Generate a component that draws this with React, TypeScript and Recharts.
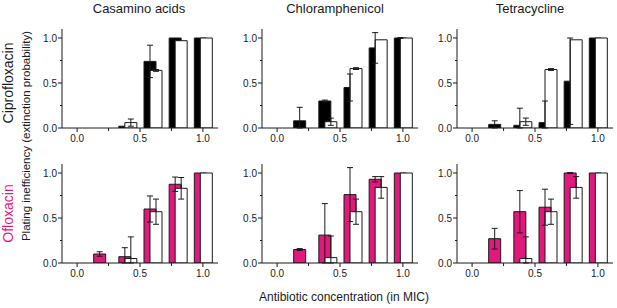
import React from "react";
import { BarChart, Bar, XAxis, YAxis, ErrorBar } from "recharts";

const FONT = "'Liberation Sans', Arial, sans-serif";
const MAGENTA = "#e2197c";
const INK = "#1a1a1a";

// x positions of the bar pairs (fraction of MIC)
const concentrations = [0.2, 0.4, 0.6, 0.8, 1.0];
const xTicks = [0, 0.25, 0.5, 0.75, 1];
const yTicks = [0, 0.25, 0.5, 0.75, 1];
const minorTicks = [0.25, 0.75];

// Ciprofloxacin row (filled = black bars, open = white bars)
const casCiproFilled = [0, 0.02, 0.74, 1.0, 1.0];
const casCiproFilledErr = [0, 0, 0.18, 0, 0];
const casCiproOpen = [0, 0.06, 0.64, 0.97, 1.0];
const casCiproOpenErr = [0, 0.04, 0.01, 0, 0];

const chlCiproFilled = [0.08, 0.3, 0.45, 0.89, 1.0];
const chlCiproFilledErr = [0.15, 0.01, 0.15, 0.17, 0.005];
const chlCiproOpen = [0, 0.07, 0.66, 0.98, 1.0];
const chlCiproOpenErr = [0, 0.04, 0.01, 0, 0];

const tetCiproFilled = [0.04, 0.03, 0.06, 0.52, 1.0];
const tetCiproFilledErr = [0.04, 0.19, 0.24, 0.48, 0];
const tetCiproOpen = [0, 0.07, 0.65, 0.98, 1.0];
const tetCiproOpenErr = [0, 0.04, 0.01, 0, 0];

// Ofloxacin row (filled = magenta bars)
const casOfloFilled = [0.1, 0.07, 0.6, 0.875, 1.0];
const casOfloFilledErr = [0.025, 0.1, 0.145, 0.08, 0];
const casOfloOpen = [0, 0.05, 0.57, 0.83, 1.0];
const casOfloOpenErr = [0, 0.24, 0.14, 0.12, 0];

const chlOfloFilled = [0.15, 0.31, 0.76, 0.93, 1.0];
const chlOfloFilledErr = [0.01, 0.35, 0.3, 0.03, 0];
const chlOfloOpen = [0, 0.06, 0.57, 0.84, 1.0];
const chlOfloOpenErr = [0, 0.24, 0.14, 0.12, 0];

const tetOfloFilled = [0.27, 0.57, 0.62, 1.0, 1.0];
const tetOfloFilledErr = [0.115, 0.235, 0.2, 0.005, 0];
const tetOfloOpen = [0, 0.05, 0.57, 0.84, 1.0];
const tetOfloOpenErr = [0, 0.24, 0.14, 0.12, 0];

const titles = ["Casamino acids", "Chloramphenicol", "Tetracycline"];

// error bars are clipped at zero, like the original plot
const errPair = (e: number, v: number) => (e ? [Math.min(e, v), e] : null);

const buildRows = (filled: number[], filledErr: number[], open: number[], openErr: number[]) =>
  concentrations.map((c, i) => ({
    conc: c,
    filled: filled[i],
    open: open[i],
    filledErr: errPair(filledErr[i], filled[i]),
    openErr: errPair(openErr[i], open[i]),
  }));

const XTick = (props: any) => {
  const { x, y, payload } = props;
  const minor = minorTicks.includes(payload.value);
  return (
    <g>
      <line x1={x} y1={y} x2={x} y2={y + (minor ? 3 : 4)} stroke={INK} />
      {!minor && (
        <text x={x} y={y + 14} textAnchor="middle" fontSize={10} fontFamily={FONT} fill={INK}>
          {payload.value.toFixed(1)}
        </text>
      )}
    </g>
  );
};

const YTick = (props: any) => {
  const { x, y, payload } = props;
  const minor = minorTicks.includes(payload.value);
  return (
    <g>
      <line x1={x - (minor ? 2 : 4)} y1={y} x2={x} y2={y} stroke={INK} />
      {!minor && (
        <text x={x - 5} y={y + 3.5} textAnchor="end" fontSize={10} fontFamily={FONT} fill={INK}>
          {payload.value.toFixed(1)}
        </text>
      )}
    </g>
  );
};

const Panel = ({ rows, color, left, top }: any) => (
  <div style={{ position: "absolute", left, top }}>
    <BarChart
      width={222}
      height={148}
      data={rows}
      margin={{ top: 29, right: 4, left: 0, bottom: 0 }}
      barSize={12}
      barGap={-6}
    >
      <XAxis
        dataKey="conc"
        type="number"
        domain={[-0.12, 1.12]}
        allowDataOverflow
        ticks={xTicks}
        interval={0}
        tickSize={0}
        tickMargin={0}
        tickLine={false}
        tick={<XTick />}
        height={20}
        axisLine={{ stroke: INK }}
      />
      <YAxis
        type="number"
        domain={[0, 1.1]}
        allowDataOverflow
        ticks={yTicks}
        interval={0}
        tickSize={0}
        tickMargin={0}
        tickLine={false}
        tick={<YTick />}
        width={62}
        axisLine={{ stroke: INK }}
      />
      <Bar dataKey="filled" fill={color} stroke={INK} strokeWidth={1} isAnimationActive={false}>
        <ErrorBar dataKey="filledErr" width={3} stroke={INK} strokeWidth={1} />
      </Bar>
      <Bar dataKey="open" fill="#ffffff" stroke={INK} strokeWidth={1} isAnimationActive={false}>
        <ErrorBar dataKey="openErr" width={3} stroke={INK} strokeWidth={1} />
      </Bar>
    </BarChart>
  </div>
);

const colLefts = [0, 200, 395];
const titleCenters = [139, 335, 530];

const App = () => {
  const ciproRows = [
    buildRows(casCiproFilled, casCiproFilledErr, casCiproOpen, casCiproOpenErr),
    buildRows(chlCiproFilled, chlCiproFilledErr, chlCiproOpen, chlCiproOpenErr),
    buildRows(tetCiproFilled, tetCiproFilledErr, tetCiproOpen, tetCiproOpenErr),
  ];
  const ofloRows = [
    buildRows(casOfloFilled, casOfloFilledErr, casOfloOpen, casOfloOpenErr),
    buildRows(chlOfloFilled, chlOfloFilledErr, chlOfloOpen, chlOfloOpenErr),
    buildRows(tetOfloFilled, tetOfloFilledErr, tetOfloOpen, tetOfloOpenErr),
  ];

  return (
    <div
      style={{
        position: "absolute",
        left: 0,
        top: 0,
        width: 617,
        height: 308,
        background: "#fff",
        overflow: "hidden",
      }}
    >
      {ciproRows.map((rows, i) => (
        <Panel key={"c" + i} rows={rows} color="#000000" left={colLefts[i]} top={0} />
      ))}
      {ofloRows.map((rows, i) => (
        <Panel key={"o" + i} rows={rows} color={MAGENTA} left={colLefts[i]} top={135} />
      ))}
      <svg
        width={617}
        height={308}
        style={{ position: "absolute", left: 0, top: 0, pointerEvents: "none" }}
        fontFamily={FONT}
      >
        {titles.map((t, i) => (
          <text key={t} x={titleCenters[i]} y={13} textAnchor="middle" fontSize={13} fill={INK}>
            {t}
          </text>
        ))}
        <text transform="translate(12.5,83) rotate(-90)" textAnchor="middle" fontSize={14} fill={INK}>
          Ciprofloxacin
        </text>
        <text transform="translate(13,213.5) rotate(-90)" textAnchor="middle" fontSize={14} fill={MAGENTA}>
          Ofloxacin
        </text>
        <text transform="translate(30,136) rotate(-90)" textAnchor="middle" fontSize={11.5} fill={INK}>
          Plating inefficiency (extinction probability)
        </text>
        <text x={344} y={301} textAnchor="middle" fontSize={12} fill={INK}>
          Antibiotic concentration (in MIC)
        </text>
      </svg>
    </div>
  );
};

export default App;
